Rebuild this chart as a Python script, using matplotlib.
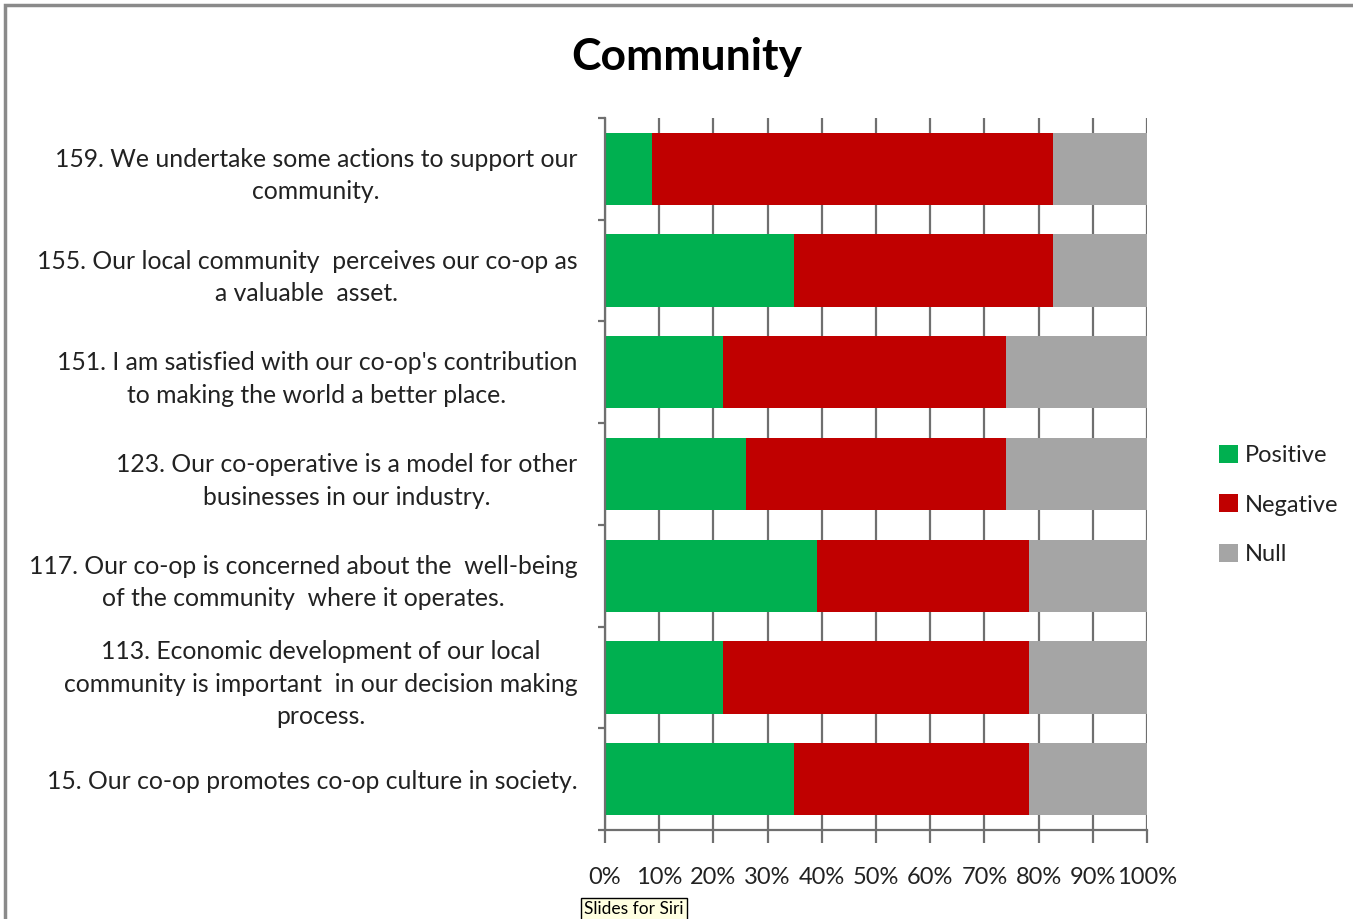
import matplotlib.pyplot as plt
from matplotlib.patches import Rectangle
from matplotlib.ticker import FixedLocator, FuncFormatter

# answers per statement (23 respondents)
N = 23
questions = [
    "159. We undertake some actions to support our\ncommunity.",
    "155. Our local community  perceives our co-op as\na valuable  asset.",
    "151. I am satisfied with our co-op's contribution\nto making the world a better place.",
    "123. Our co-operative is a model for other\nbusinesses in our industry.",
    "117. Our co-op is concerned about the  well-being\nof the community  where it operates.",
    "113. Economic development of our local\ncommunity is important  in our decision making\nprocess.",
    "15. Our co-op promotes co-op culture in society.",
]
positive = [2, 8, 5, 6, 9, 5, 8]
negative = [17, 11, 12, 11, 9, 13, 10]
null = [4, 4, 6, 6, 5, 5, 5]

colors = {"Positive": "#00B050", "Negative": "#C00000", "Null": "#A5A5A5"}

plt.rcParams['font.family'] = ['Lato', 'DejaVu Sans']

fig = plt.figure(figsize=(13.53, 9.19), dpi=100)
ax = fig.add_axes([605 / 1353, 1 - 830 / 919, 542 / 1353, 712 / 919])

pos_pct = [v / N * 100 for v in positive]
neg_pct = [v / N * 100 for v in negative]
nul_pct = [v / N * 100 for v in null]
y = list(range(len(questions)))[::-1]

left = [0] * len(y)
for name, vals in [("Positive", pos_pct), ("Negative", neg_pct), ("Null", nul_pct)]:
    ax.barh(y, vals, left=left, height=0.71, color=colors[name], label=name, zorder=2)
    left = [a + b for a, b in zip(left, vals)]

ax.set_xlim(0, 100)
ax.set_ylim(-0.5, len(y) - 0.5)
ax.set_axisbelow(True)

ax.xaxis.set_major_locator(FixedLocator(range(0, 101, 10)))
ax.xaxis.set_major_formatter(FuncFormatter(lambda v, p: f"{int(v)}%"))
ax.grid(axis='x', color='#6f6f6f', linewidth=1.6, zorder=0)
ax.tick_params(axis='x', direction='out', length=9, width=1.6, color='#6f6f6f',
               labelsize=17, pad=18, labelcolor='#222222')

ax.set_yticks(y)
ax.set_yticklabels(questions, fontsize=17.8, color='#222222',
                   multialignment='center', linespacing=1.5)
ax.set_yticks([v - 0.5 for v in range(len(y) + 1)], minor=True)
ax.tick_params(axis='y', which='major', length=0, pad=20)
ax.tick_params(axis='y', which='minor', direction='out', length=5, width=1.6,
               color='#6f6f6f')

for side in ['top', 'right']:
    ax.spines[side].set_visible(False)
for side in ['left', 'bottom']:
    ax.spines[side].set_color('#6f6f6f')
    ax.spines[side].set_linewidth(1.6)

fig.text(687 / 1353, 1 - 57 / 919, "Community", ha='center', va='center',
         fontsize=32, fontweight='bold', color='black')

ax.legend(loc='center left', bbox_to_anchor=(1198 / 1353, 1 - 505 / 919),
          bbox_transform=fig.transFigure, frameon=False, fontsize=17,
          handlelength=0.8, handleheight=0.8, handletextpad=0.3,
          labelspacing=1.2, labelcolor='#222222')

# outer frame of the chart area
fig.add_artist(Rectangle((5 / 1353, -0.05), 1.2, 1 - 5 / 919 + 0.05,
                         transform=fig.transFigure, fill=False,
                         edgecolor='#8a8a8a', linewidth=2.5))

# hover tooltip
fig.text(584 / 1353, 1 - 909 / 919, "Slides for Siri", ha='left', va='center',
         fontsize=12.5, color='black',
         bbox=dict(boxstyle='square,pad=0.2', facecolor='#ffffe1',
                   edgecolor='black', linewidth=1))

fig.savefig("out.png", dpi=100, facecolor='white')
